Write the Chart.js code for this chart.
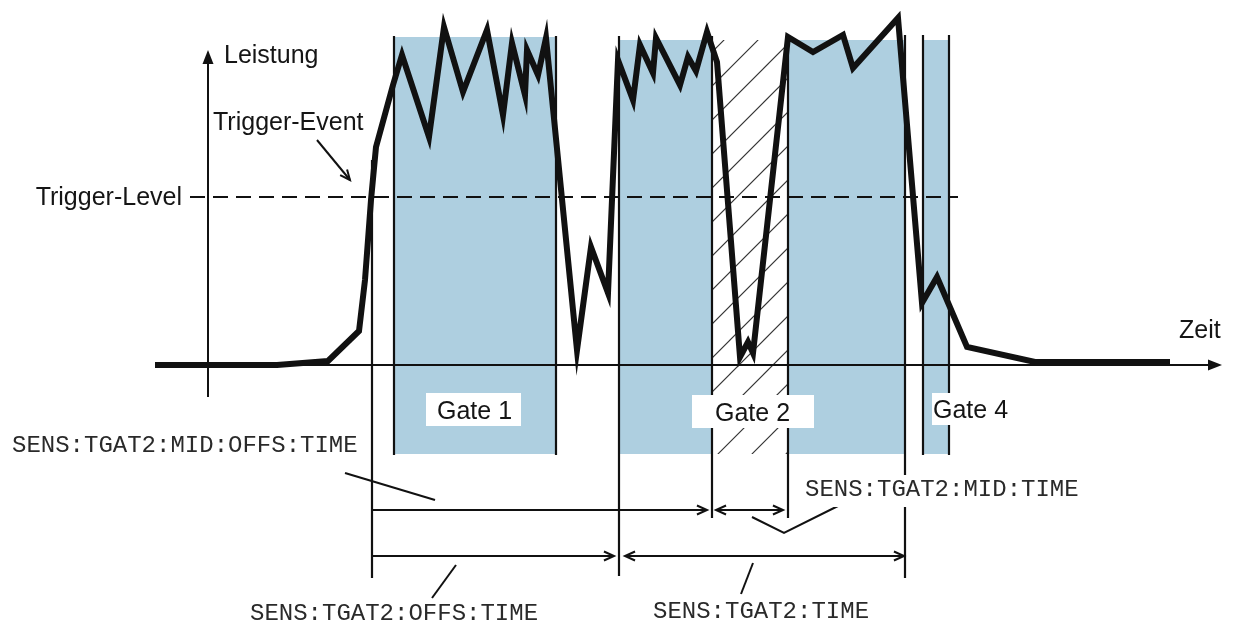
<!DOCTYPE html>
<html>
<head>
<meta charset="utf-8">
<script src="https://cdn.jsdelivr.net/npm/chart.js@4.4.1/dist/chart.umd.min.js"></script>
<style>
html,body{margin:0;padding:0;background:#fff;overflow:hidden;}
canvas{display:block;}
</style>
</head>
<body>
<canvas id="c" width="1234" height="623"></canvas>
<script>
// ---- data (time units on x, power units on y; 0 = baseline) ----
const waveTime  = [155,277,328,359,365,371,376,393,402,429,444,463,487,503,512,525,527,538,546,577,591,608,618,633,640,653,656,680,688,696,707,717,740,748,753,788,813,843,853,898,922,937,967,1035,1170];
const wavePower = [0,0,4,34,85,165,218,280,310,228,338,273,335,250,322,270,315,290,327,15,118,72,305,265,320,292,327,280,308,294,333,303,8,23,12,328,313,330,297,347,62,88,18,3,3];

const triggerLevel = 168;
const triggerTime  = 372;

// gates (filled regions)
const gateStart = [394, 619, 788, 923];
const gateEnd   = [556, 712, 905, 949];
const gateTop   = [328, 325, 325, 325];
const gateBottom = -89;
// hatched gate 2
const hatchStart = 712, hatchEnd = 788, hatchTop = 325;

// gate boundary lines
const boundTime   = [394, 556, 619, 712, 788, 905, 923, 949];
const boundTop    = [329, 329, 329, 329, 329, 330, 330, 330];
const boundBottom = [-90, -90, -211, -153, -153, -213, -90, -90];

// measurement arrows
const arrowFrom  = [372, 716, 372, 625];
const arrowTo    = [707, 783, 614, 904];
const arrowLevel = [-145, -145, -191, -191];
const arrowHeadStart = [false, true, false, true];
const arrowHeadEnd   = [true, true, true, true];

// leader lines (polyline points)
const leaders = [
  [[345,-108],[435,-135]],
  [[456,-200],[432,-233]],
  [[752,-152],[784,-168],[844,-138]],
  [[753,-198],[741,-229]],
  [[317,225],[350,185]]
];

// text labels
const labelTexts = ["Leistung","Trigger-Event","Trigger-Level","Zeit","Gate 1","Gate 2","Gate 4",
  "SENS:TGAT2:MID:OFFS:TIME","SENS:TGAT2:OFFS:TIME","SENS:TGAT2:MID:TIME","SENS:TGAT2:TIME"];

// ---- layout ----
const labelLayout = [
  {x:224,y:302,kind:'sans'},
  {x:213,y:235,kind:'sans'},
  {x:182,y:160,kind:'sans',align:'right'},
  {x:1179,y:27,kind:'sans'},
  {x:437,y:-54,kind:'sans',box:[426,521,-28,-61]},
  {x:715,y:-56,kind:'sans',box:[692,814,-30,-63]},
  {x:933,y:-53,kind:'sans',box:[932,1012,-28,-60]},
  {x:12,y:-87,kind:'mono'},
  {x:250,y:-255,kind:'mono'},
  {x:805,y:-131,kind:'mono',box:[800,1080,-110,-142]},
  {x:653,y:-253,kind:'mono'}
];

const fonts = {sans:'25px "Liberation Sans", Arial, sans-serif', mono:'24px "Liberation Mono", "Courier New", monospace'};

function headOpen(ctx, tx, ty, ang){
  const L = 11, a = 0.42;
  ctx.beginPath();
  ctx.moveTo(tx - L*Math.cos(ang - a), ty - L*Math.sin(ang - a));
  ctx.lineTo(tx, ty);
  ctx.lineTo(tx - L*Math.cos(ang + a), ty - L*Math.sin(ang + a));
  ctx.stroke();
}
function headFilled(ctx, tx, ty, ang){
  const L = 14, w = 5.5;
  ctx.beginPath();
  ctx.moveTo(tx, ty);
  ctx.lineTo(tx - L*Math.cos(ang) + w*Math.sin(ang), ty - L*Math.sin(ang) - w*Math.cos(ang));
  ctx.lineTo(tx - L*Math.cos(ang) - w*Math.sin(ang), ty - L*Math.sin(ang) + w*Math.cos(ang));
  ctx.closePath();
  ctx.fill();
}

const diagram = {
  id:'diagram',
  beforeDraw(chart){
    const ctx = chart.ctx;
    ctx.save(); ctx.fillStyle='#fff'; ctx.fillRect(0,0,chart.width,chart.height); ctx.restore();
  },
  beforeDatasetsDraw(chart){
    const ctx = chart.ctx, xs = chart.scales.x, ys = chart.scales.y;
    const X = v => xs.getPixelForValue(v), Y = v => ys.getPixelForValue(v);
    ctx.save();
    ctx.fillStyle = '#aecfe0';
    for (let i=0;i<gateStart.length;i++){
      ctx.fillRect(X(gateStart[i]), Y(gateTop[i]), X(gateEnd[i])-X(gateStart[i]), Y(gateBottom)-Y(gateTop[i]));
    }
    ctx.save();
    ctx.beginPath();
    ctx.rect(X(hatchStart), Y(hatchTop), X(hatchEnd)-X(hatchStart), Y(gateBottom)-Y(hatchTop));
    ctx.clip();
    ctx.strokeStyle = '#333'; ctx.lineWidth = 1.1;
    const x0 = X(hatchStart), x1 = X(hatchEnd), w = x1-x0;
    for (let yy = Y(hatchTop) - 200; yy < Y(gateBottom) + 200; yy += 34){
      ctx.beginPath(); ctx.moveTo(x1, yy); ctx.lineTo(x0, yy + w); ctx.stroke();
    }
    ctx.restore();
    ctx.strokeStyle = '#111'; ctx.fillStyle = '#111'; ctx.lineWidth = 2;
    ctx.beginPath(); ctx.moveTo(X(155), Y(0)); ctx.lineTo(X(1212), Y(0)); ctx.stroke();
    headFilled(ctx, X(1222), Y(0), 0);
    ctx.beginPath(); ctx.moveTo(X(208), Y(-32)); ctx.lineTo(X(208), Y(305)); ctx.stroke();
    headFilled(ctx, X(208), Y(315), -Math.PI/2);
    ctx.setLineDash([15,8]);
    ctx.beginPath(); ctx.moveTo(X(190), Y(triggerLevel)); ctx.lineTo(X(958), Y(triggerLevel)); ctx.stroke();
    ctx.setLineDash([]);
    ctx.lineWidth = 2.2;
    for (let i=0;i<boundTime.length;i++){
      ctx.beginPath(); ctx.moveTo(X(boundTime[i]), Y(boundTop[i])); ctx.lineTo(X(boundTime[i]), Y(boundBottom[i])); ctx.stroke();
    }
    ctx.beginPath(); ctx.moveTo(X(triggerTime), Y(205)); ctx.lineTo(X(triggerTime), Y(-213)); ctx.stroke();
    ctx.lineWidth = 2;
    for (let i=0;i<arrowFrom.length;i++){
      const a = X(arrowFrom[i]), b = X(arrowTo[i]), y = Y(arrowLevel[i]);
      ctx.beginPath(); ctx.moveTo(a,y); ctx.lineTo(b,y); ctx.stroke();
      if (arrowHeadEnd[i]) headOpen(ctx, b, y, 0);
      if (arrowHeadStart[i]) headOpen(ctx, a, y, Math.PI);
    }
    leaders.forEach((pts, k) => {
      ctx.beginPath();
      pts.forEach((p,j) => j ? ctx.lineTo(X(p[0]),Y(p[1])) : ctx.moveTo(X(p[0]),Y(p[1])));
      ctx.stroke();
      if (k === leaders.length-1){
        const p = pts[pts.length-1], q = pts[pts.length-2];
        const ang = Math.atan2(Y(p[1])-Y(q[1]), X(p[0])-X(q[0]));
        headOpen(ctx, X(p[0]), Y(p[1]), ang);
      }
    });
    ctx.restore();
  },
  afterDatasetsDraw(chart){
    const ctx = chart.ctx, xs = chart.scales.x, ys = chart.scales.y;
    const X = v => xs.getPixelForValue(v), Y = v => ys.getPixelForValue(v);
    ctx.save();
    labelTexts.forEach((t,i) => {
      const L = labelLayout[i];
      if (L.box){
        ctx.fillStyle = '#fff';
        ctx.fillRect(X(L.box[0]), Y(L.box[3]), X(L.box[1])-X(L.box[0]), Y(L.box[2])-Y(L.box[3]));
      }
      ctx.font = fonts[L.kind];
      ctx.fillStyle = L.kind === 'mono' ? '#2a2a2a' : '#151515';
      ctx.textAlign = L.align || 'left';
      ctx.textBaseline = 'alphabetic';
      ctx.fillText(t, X(L.x), Y(L.y));
    });
    ctx.restore();
  }
};

new Chart(document.getElementById('c'), {
  type: 'line',
  data: {
    datasets: [{
      data: waveTime.map((t,i) => ({x:t, y:wavePower[i]})),
      borderColor: '#111',
      borderWidth: 6,
      borderJoinStyle: 'miter',
      borderCapStyle: 'butt',
      pointRadius: 0,
      tension: 0,
      fill: false
    }]
  },
  options: {
    responsive: false,
    animation: false,
    devicePixelRatio: 1,
    layout: {padding: 0},
    plugins: {legend:{display:false}, tooltip:{enabled:false}},
    scales: {
      x: {type:'linear', min:0, max:1234, display:false},
      y: {type:'linear', min:-258, max:365, display:false}
    }
  },
  plugins: [diagram]
});
</script>
</body>
</html>
